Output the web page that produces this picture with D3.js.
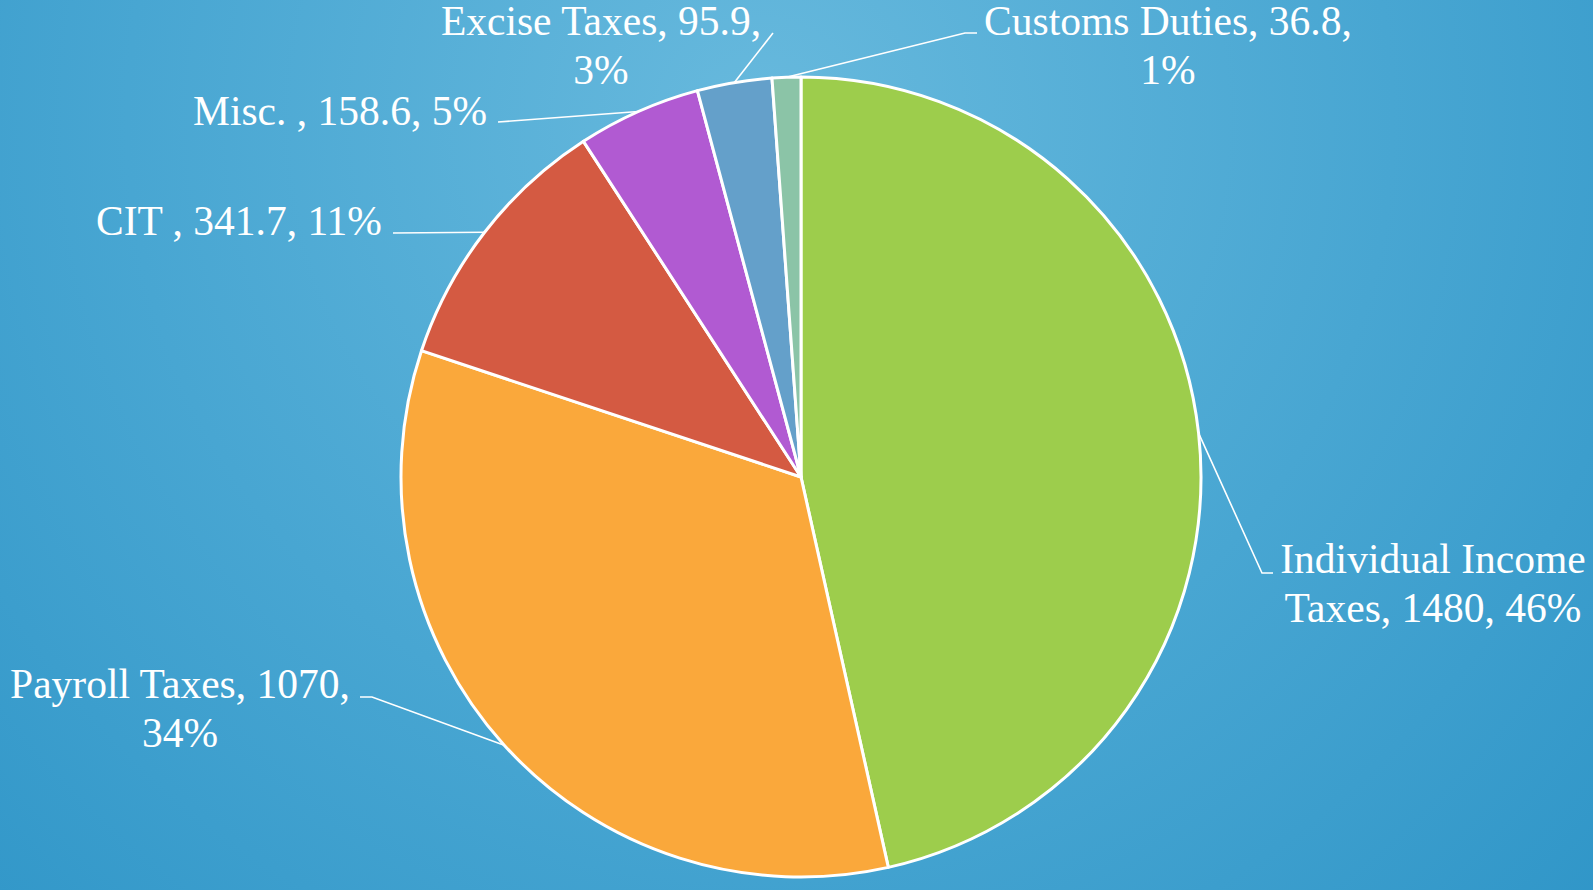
<!DOCTYPE html>
<html>
<head>
<meta charset="utf-8">
<script src="https://cdn.jsdelivr.net/npm/d3@7"></script>
<style>
  html, body { margin: 0; padding: 0; overflow: hidden; }
  svg { display: block; }
  .label { font-family: "Liberation Serif", "Times New Roman", serif; font-size: 41.5px; fill: #fff; }
</style>
</head>
<body>
<div id="chart"></div>
<script>
// data
var categories = ['Individual Income Taxes', 'Payroll Taxes', 'CIT ', 'Misc. ', 'Excise Taxes', 'Customs Duties'];
var values = [1480, 1070, 341.7, 158.6, 95.9, 36.8];
var colors = ['#9dcd4c', '#faa83b', '#d45a42', '#b15ad2', '#64a0ca', '#8bc4a7'];

// label placement (center x, first baseline y, words on first line, leader bend points)
var labelLayout = [
  { x: 1433, y: 573, wrap: 2, bend: [[1262, 573], [1273, 573]] },
  { x: 180, y: 698, wrap: 3, bend: [[372, 697], [360, 697]] },
  { x: 239, y: 235, wrap: 0, bend: [[393, 233]] },
  { x: 340, y: 125, wrap: 0, bend: [[498, 122]] },
  { x: 601, y: 35, wrap: 3, bend: [[773, 33]] },
  { x: 1168, y: 35, wrap: 3, bend: [[965, 33], [977, 33]] }
];

var width = 1593, height = 890;
var cx = 801, cy = 477, radius = 400;

var svg = d3.select('#chart').append('svg')
  .attr('width', width)
  .attr('height', height);

// background
var defs = svg.append('defs');
var grad = defs.append('radialGradient')
  .attr('id', 'bg')
  .attr('gradientUnits', 'userSpaceOnUse')
  .attr('cx', 760).attr('cy', 120).attr('r', 1150);
grad.append('stop').attr('offset', '0%').attr('stop-color', '#67b9dd');
grad.append('stop').attr('offset', '55%').attr('stop-color', '#48a6d2');
grad.append('stop').attr('offset', '100%').attr('stop-color', '#3096c8');
svg.append('rect')
  .attr('width', width).attr('height', height)
  .attr('fill', 'url(#bg)');

var data = categories.map(function (c, i) {
  return { name: c, value: values[i], color: colors[i], layout: labelLayout[i] };
});
var total = d3.sum(values);

var pie = d3.pie()
  .sort(null)
  .value(function (d) { return d.value; });
var arc = d3.arc().innerRadius(0).outerRadius(radius);

var g = svg.append('g')
  .attr('transform', 'translate(' + cx + ',' + cy + ')');

var arcs = pie(data);

g.selectAll('path.slice')
  .data(arcs)
  .enter()
  .append('path')
  .attr('class', 'slice')
  .attr('d', arc)
  .attr('fill', function (d) { return d.data.color; })
  .attr('stroke', '#fff')
  .attr('stroke-width', 3)
  .attr('stroke-linejoin', 'round');

// leader lines
var line = d3.line();
svg.selectAll('path.leader')
  .data(arcs)
  .enter()
  .append('path')
  .attr('class', 'leader')
  .attr('d', function (d) {
    var a = (d.startAngle + d.endAngle) / 2;
    var p = [cx + radius * Math.sin(a), cy - radius * Math.cos(a)];
    return line([p].concat(d.data.layout.bend));
  })
  .attr('fill', 'none')
  .attr('stroke', '#fff')
  .attr('stroke-width', 1.6);

// labels
var labels = svg.selectAll('text.label')
  .data(arcs)
  .enter()
  .append('text')
  .attr('class', 'label')
  .attr('text-anchor', 'middle')
  .attr('x', function (d) { return d.data.layout.x; })
  .attr('y', function (d) { return d.data.layout.y; });

labels.each(function (d) {
  var pct = Math.round(d.data.value / total * 100) + '%';
  var words = (d.data.name + ', ' + d.data.value + ', ' + pct).split(' ');
  var wrap = d.data.layout.wrap;
  var lines = wrap ? [words.slice(0, wrap).join(' '), words.slice(wrap).join(' ')] : [words.join(' ')];
  var t = d3.select(this);
  lines.forEach(function (l, i) {
    t.append('tspan')
      .attr('x', d.data.layout.x)
      .attr('dy', i === 0 ? 0 : 48.5)
      .text(l);
  });
});
</script>
</body>
</html>
